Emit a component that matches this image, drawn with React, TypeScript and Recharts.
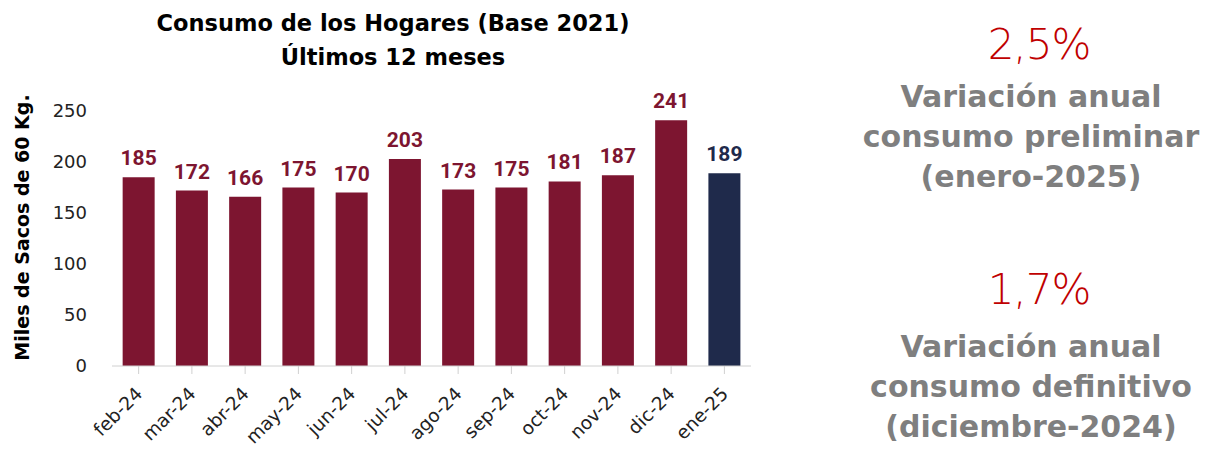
import React from 'react';
import { BarChart, Bar, XAxis, YAxis, LabelList, Cell, Label } from 'recharts';

const months = ['feb-24', 'mar-24', 'abr-24', 'may-24', 'jun-24', 'jul-24', 'ago-24', 'sep-24', 'oct-24', 'nov-24', 'dic-24', 'ene-25'];
const consumo = [185, 172, 166, 175, 170, 203, 173, 175, 181, 187, 241, 189];
const yTicks = [0, 50, 100, 150, 200, 250];

const WINE = '#7d1530';
const NAVY = '#1f2a4b';
const FONT = '"DejaVu Sans", sans-serif';

const data = months.map((m, i) => ({ mes: m, valor: consumo[i] }));
const colorOf = (i: number) => (i === months.length - 1 ? NAVY : WINE);

const XTick = (props: any) => {
  const { x, y, payload } = props;
  const ax = x + 5;
  const ay = y + 19;
  return (
    <text x={ax} y={ay} textAnchor="end" transform={`rotate(-45, ${ax}, ${ay})`}
      fontFamily={FONT} fontSize={18.5} fill="#222">
      {payload.value}
    </text>
  );
};

const ValueLabel = (props: any) => {
  const { x, y, width, value, index } = props;
  return (
    <text x={x + width / 2} y={y - 12} textAnchor="middle" fontFamily="Roboto, sans-serif" fontWeight="bold"
      fontSize={21} fill={colorOf(index)}>
      {value}
    </text>
  );
};

const YLabel = (props: any) => {
  const { viewBox } = props;
  const cx = 22;
  const cy = viewBox.y + viewBox.height / 2 - 11;
  return (
    <text x={cx} y={cy} textAnchor="middle" dominantBaseline="central" transform={`rotate(-90, ${cx}, ${cy})`}
      fontFamily={FONT} fontWeight="bold" fontSize={19} fill="#000">
      Miles de Sacos de 60 Kg.
    </text>
  );
};

const sideBig: React.CSSProperties = {
  fontFamily: FONT, fontSize: 42, color: '#c00000', fontWeight: 300, lineHeight: '50px', letterSpacing: -1, paddingLeft: 16,
};
const sideText: React.CSSProperties = {
  fontFamily: FONT, fontSize: 30, color: '#7f7f7f', fontWeight: 'bold', lineHeight: '40px',
};

export default function App() {
  return (
    <div style={{ position: 'absolute', left: 0, top: 0, width: 1207, height: 449, background: '#fff', overflow: 'hidden' }}>
      <div style={{ position: 'absolute', left: 0, top: 6, width: 786, textAlign: 'center', fontFamily: FONT, fontWeight: 'bold', fontSize: 22.5, lineHeight: '34px', color: '#000' }}>
        Consumo de los Hogares (Base 2021)<br />Últimos 12 meses
      </div>
      <div style={{ position: 'absolute', left: 0, top: 0 }}>
        <BarChart width={760} height={449} data={data} margin={{ top: 111, right: 9, bottom: 0, left: 0 }} barCategoryGap="20%">
          <XAxis dataKey="mes" interval={0} tick={<XTick />} tickLine={{ stroke: '#d0d0d0' }} tickSize={8}
            axisLine={{ stroke: '#d0d0d0' }} height={83} />
          <YAxis domain={[0, 250]} ticks={yTicks} width={112} axisLine={false} tickLine={false} tickSize={0} tickMargin={25}
            tick={{ fontFamily: FONT, fontSize: 18, fill: '#222' }}>
            <Label content={<YLabel />} />
          </YAxis>
          <Bar dataKey="valor" isAnimationActive={false}>
            {data.map((d, i) => (
              <Cell key={d.mes} fill={colorOf(i)} />
            ))}
            <LabelList dataKey="valor" content={<ValueLabel />} />
          </Bar>
        </BarChart>
      </div>
      <div style={{ position: 'absolute', left: 850, top: 20, width: 362, textAlign: 'center' }}>
        <div style={sideBig}>2,5%</div>
        <div style={{ ...sideText, marginTop: 7 }}>Variación anual<br />consumo preliminar<br />(enero-2025)</div>
      </div>
      <div style={{ position: 'absolute', left: 850, top: 265, width: 362, textAlign: 'center' }}>
        <div style={sideBig}>1,7%</div>
        <div style={{ ...sideText, marginTop: 12 }}>Variación anual<br />consumo definitivo<br />(diciembre-2024)</div>
      </div>
    </div>
  );
}
